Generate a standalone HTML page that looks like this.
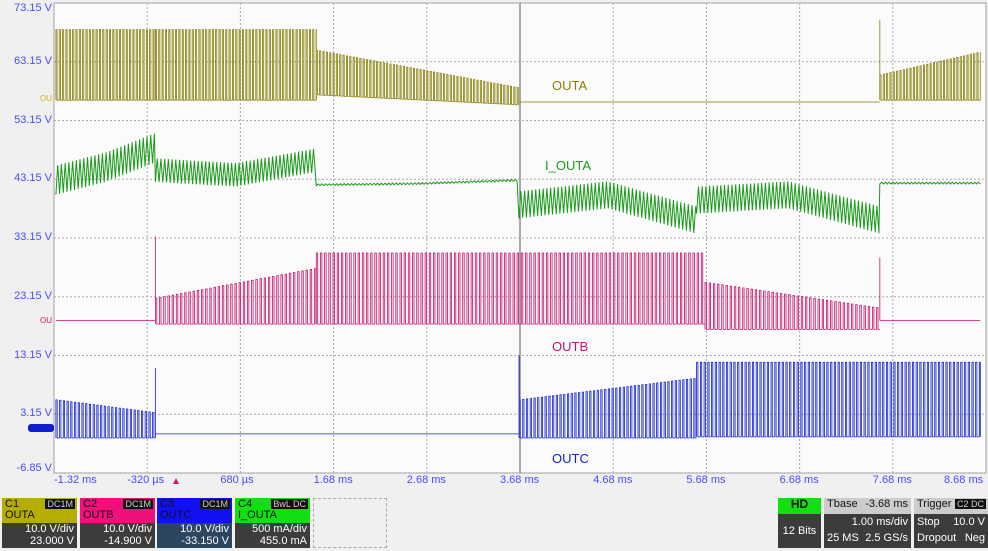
<!DOCTYPE html>
<html><head><meta charset="utf-8"><style>
body{margin:0;width:988px;height:551px;background:#f0f0f0;font-family:"Liberation Sans",sans-serif;overflow:hidden;position:relative}
.yl{position:absolute;left:2px;width:50px;text-align:right;font-size:11px;color:#4a4aff;white-space:nowrap}
.xl{position:absolute;top:474px;font-size:11px;color:#4a4aff;white-space:nowrap}
.box{position:absolute;top:498px;width:75px;height:50px;font-size:11px;white-space:nowrap;overflow:hidden}
.box .h{height:23px;padding:1px 3px;line-height:11px;color:#111;position:relative}
.box .b{height:25px;background:#3c3c3c;color:#fff;text-align:right;padding:0 3px;line-height:12px}
.tag{position:absolute;right:2px;top:1px;background:#111;color:#ccc;font-size:9px;padding:0 2px;line-height:10px}
</style></head><body>
<svg id="plot" width="988" height="551" style="position:absolute;left:0;top:0">
<rect x="54" y="3" width="932" height="470" fill="#fbfbfb" stroke="#999"/>
<g id="grid"></g><g id="traces"></g>
<text x="552" y="90" fill="#8a8000" font-size="13" font-family="Liberation Sans">OUTA</text>
<text x="545" y="170" fill="#1a9a1a" font-size="13" font-family="Liberation Sans">I_OUTA</text>
<text x="552" y="351" fill="#c8106a" font-size="13" font-family="Liberation Sans">OUTB</text>
<text x="552" y="463" fill="#1020d0" font-size="13" font-family="Liberation Sans">OUTC</text>
<polygon points="173,484 179,484 176,478" fill="#e0106a"/>
<rect x="28" y="424" width="26" height="8" rx="3" fill="#1020d0"/>
<text x="40" y="101" fill="#c8b800" font-size="8">OU</text>
<text x="40" y="323" fill="#e0106a" font-size="8">OU</text>
</svg>
<div id="ylabels"></div><div id="xlabels"></div>
<div class="box" style="left:2px"><div class="h" style="background:#b5ad00">C1<br>OUTA<span class="tag">DC1M</span></div><div class="b">10.0 V/div<br>23.000 V</div></div>
<div class="box" style="left:80px"><div class="h" style="background:#f0107a">C2<br>OUTB<span class="tag">DC1M</span></div><div class="b">10.0 V/div<br>-14.900 V</div></div>
<div class="box" style="left:157px"><div class="h" style="background:#1010f0">C3<br>OUTC<span class="tag">DC1M</span></div><div class="b" style="background:#2d4660">10.0 V/div<br>-33.150 V</div></div>
<div class="box" style="left:235px"><div class="h" style="background:#10e010">C4<br>I_OUTA<span class="tag">BwL DC</span></div><div class="b">500 mA/div<br>455.0 mA</div></div>
<div style="position:absolute;left:313px;top:498px;width:72px;height:48px;border:1px dashed #aaa"></div>
<div class="box" style="left:778px;width:43px;text-align:center"><div class="h" style="background:#10e010;height:14px;text-align:center;font-weight:bold;font-size:12px">HD</div><div class="b" style="height:34px;text-align:center;line-height:34px">12 Bits</div></div>
<div class="box" style="left:824px;width:87px"><div class="h" style="background:#ccc;height:14px">Tbase<span style="position:absolute;right:3px">-3.68 ms</span></div><div class="b" style="height:34px;line-height:16px">1.00 ms/div<br><span style="float:left">25 MS</span>2.5 GS/s</div></div>
<div class="box" style="left:914px;width:74px"><div class="h" style="background:#ccc;height:14px">Trigger<span class="tag">C2 DC</span></div><div class="b" style="height:34px;line-height:16px;text-align:left">Stop<span style="float:right">10.0 V</span><br>Dropout<span style="float:right">Neg</span></div></div>
<script>
const yTicks=["73.15 V","63.15 V","53.15 V","43.15 V","33.15 V","23.15 V","13.15 V","3.15 V","-6.85 V"];
const xTicks=["-1.32 ms","-320 µs","680 µs","1.68 ms","2.68 ms","3.68 ms","4.68 ms","5.68 ms","6.68 ms","7.68 ms","8.68 ms"];
// pulse segments: [t0,t1,lowStart,lowEnd,highStart,highEnd,period(ms)]
const outaSegs=[[-1.30,-0.23,56.6,56.6,68.6,68.6,0.036],[-0.23,1.50,56.6,56.6,68.6,68.6,0.036],[1.50,3.68,57.5,55.8,65.1,58.7,0.036],[3.68,7.56,56.3,56.3,56.3,56.3,0.2],[7.56,8.64,56.6,56.6,60.9,64.8,0.036]];
const outaSpikes=[[7.56,70.3]];
const outbSegs=[[-1.30,-0.23,19.1,19.1,19.1,19.1,0.2],[-0.23,1.50,18.5,18.5,22.9,28.0,0.045],[1.50,5.68,18.5,18.5,30.6,30.6,0.045],[5.68,7.56,17.6,17.6,25.6,21.2,0.045],[7.56,8.64,19.1,19.1,19.1,19.1,0.2]];
const outbSpikes=[[-0.23,33.4],[7.56,29.8]];
const outcSegs=[[-1.30,-0.23,-0.9,-0.9,5.6,3.4,0.04],[-0.23,3.68,-0.2,-0.2,-0.2,-0.2,0.2],[3.68,5.59,-0.9,-0.9,5.6,9.3,0.04],[5.59,8.64,-0.7,-0.7,12.0,12.0,0.04]];
const outcSpikes=[[-0.23,11.0],[3.68,13.2]];
// I_OUTA envelope: [t0,t1,centerStart,centerMid,centerEnd,amplitude]
const ioutaSegs=[[-1.30,-0.23,43.0,45.2,48.5,2.5],[-0.23,1.50,44.7,43.9,46.4,2.0],[1.50,3.68,42.2,42.4,43.0,0.15],[3.68,5.59,38.8,40.5,36.2,2.3],[5.59,7.56,39.6,40.5,36.2,2.3],[7.56,8.64,42.5,42.5,42.5,0.15]];
const X=t=>54+(t+1.32)*93, Y=v=>3+(73.15-v)*5.875;
const grid=document.getElementById('grid'),tr=document.getElementById('traces');
const NS='http://www.w3.org/2000/svg';
for(let i=0;i<=10;i++){const l=document.createElementNS(NS,'line');l.setAttribute('x1',54+i*93.2);l.setAttribute('x2',54+i*93.2);l.setAttribute('y1',3);l.setAttribute('y2',473);l.setAttribute('stroke',i==5?'#555':'#aaa');l.setAttribute('stroke-dasharray',i==5?'':'2,2');

grid.appendChild(l);}
for(let i=0;i<=8;i++){const l=document.createElementNS(NS,'line');l.setAttribute('x1',54);l.setAttribute('x2',986);l.setAttribute('y1',3+i*58.75);l.setAttribute('y2',3+i*58.75);l.setAttribute('stroke','#aaa');l.setAttribute('stroke-dasharray','2,2');

grid.appendChild(l);}
const yl=document.getElementById('ylabels');
yTicks.forEach((s,i)=>{const d=document.createElement('div');d.className='yl';d.style.top=(i==0?2:i==8?462:(3+i*58.75-7))+'px';d.textContent=s;

yl.appendChild(d);});
const xl=document.getElementById('xlabels');
xTicks.forEach((s,i)=>{const d=document.createElement('div');d.className='xl';const cx=54+i*93.2;d.style.left=(i==0?54:i==10?944:cx-20)+'px';d.textContent=s;

xl.appendChild(d);});
function lerp(a,b,f){return a+(b-a)*f}
function pulses(segs,spikes,color,name){let d='';
segs.forEach(s=>{const [t0,t1,l0,l1,h0,h1,p]=s;for(let t=t0;t<t1;t+=p){const f=(t-t0)/(t1-t0);const lo=lerp(l0,l1,f),hi=lerp(h0,h1,f);const te=Math.min(t+p*0.35,t1);
d+=`M${X(t).toFixed(1)},${Y(lo).toFixed(1)}L${X(t).toFixed(1)},${Y(hi).toFixed(1)}L${X(te).toFixed(1)},${Y(hi).toFixed(1)}L${X(te).toFixed(1)},${Y(lo).toFixed(1)}L${X(Math.min(t+p,t1)).toFixed(1)},${Y(lo).toFixed(1)}`;}});
spikes.forEach(s=>{d+=`M${X(s[0])},${Y(segs[0][2])}L${X(s[0])},${Y(s[1])}`;});
const p=document.createElementNS(NS,'path');p.setAttribute('d',d);p.setAttribute('stroke',color);p.setAttribute('fill','none');p.setAttribute('stroke-width','0.8');

tr.appendChild(p);}
pulses(outaSegs,outaSpikes,'#857c00','trace-outa');
pulses(outbSegs,outbSpikes,'#c8106a','trace-outb');
pulses(outcSegs,outcSpikes,'#1020d0','trace-outc');
(function(){let d='';const per=0.04;
ioutaSegs.forEach(s=>{const [t0,t1,c0,cm,c1,a]=s;let k=0;for(let t=t0;t<=t1;t+=per/2,k++){const f=(t-t0)/(t1-t0);const c=f<0.5?lerp(c0,cm,f*2):lerp(cm,c1,(f-0.5)*2);const v=c+(k%2?a:-a);
d+=(d==''?'M':'L')+X(t).toFixed(1)+','+Y(v).toFixed(1);}});
const p=document.createElementNS(NS,'path');p.setAttribute('d',d);p.setAttribute('stroke','#1a9a1a');p.setAttribute('fill','none');

tr.appendChild(p);})();
</script>
</body></html>
